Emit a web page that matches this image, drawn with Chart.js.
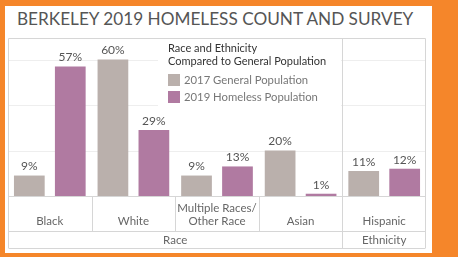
<!DOCTYPE html>
<html>
<head>
<meta charset="utf-8">
<script src="https://cdn.jsdelivr.net/npm/chart.js@4"></script>
<style>
  html, body { margin: 0; padding: 0; }
  body { width: 458px; height: 257px; background: #F5862A; position: relative; overflow: hidden; font-family: Lato, sans-serif; }
  #panel { position: absolute; left: 5px; top: 6px; width: 427px; height: 247px; background: #fff; }
  #title { position: absolute; left: 17px; top: 8px; font-size: 17.2px; color: #555; white-space: nowrap; }
  #chart { position: absolute; left: 0; top: 0; }
</style>
</head>
<body>
<div id="panel"></div>
<div id="title">BERKELEY 2019 HOMELESS COUNT AND SURVEY</div>
<canvas id="chart" width="458" height="257"></canvas>
<script>
// ---------------- DATA ----------------
const categories = ['Black', 'White', ['Multiple Races/', 'Other Race'], 'Asian', 'Hispanic'];
const generalPop2017 = [9, 60, 9, 20, 11];
const homelessPop2019 = [57, 29, 13, 1, 12];
const groupNames = ['Race', 'Ethnicity'];
const groupSizes = [4, 1];
const legendTitle = ['Race and Ethnicity', 'Compared to General Population'];
const gridValues = [20, 40, 60];

const GRAY = '#BAB0AC';
const PURPLE = '#B07AA1';
const LINE = '#d6d6d6';
const FONT = 'Lato, sans-serif';

// ---------------- CUSTOM DRAWING ----------------
const tableauLook = {
  id: 'tableauLook',
  beforeDatasetsDraw(chart) {
    const { ctx, chartArea: a, scales: { y } } = chart;
    ctx.save();
    // faint gridlines
    ctx.strokeStyle = '#eeeeee';
    ctx.lineWidth = 1;
    gridValues.forEach(v => {
      const py = Math.round(y.getPixelForValue(v)) + 0.5;
      ctx.beginPath();
      ctx.moveTo(a.left, py);
      ctx.lineTo(a.right, py);
      ctx.stroke();
    });
    // legend sits on a white box over the grid
    ctx.fillStyle = '#fff';
    ctx.fillRect(158, a.top + 1, 183, 74);
    ctx.restore();
  },
  afterDatasetsDraw(chart) {
    const { ctx, chartArea: a, scales: { x } } = chart;
    const labelBottom = a.bottom + 35;
    const groupBottom = a.bottom + 52;
    const step = x.getPixelForValue(1) - x.getPixelForValue(0);
    const edge = i => x.getPixelForValue(i) - step / 2;
    ctx.save();

    // value labels
    ctx.fillStyle = '#555';
    ctx.font = '12px ' + FONT;
    ctx.textAlign = 'center';
    ctx.textBaseline = 'bottom';
    chart.data.datasets.forEach((ds, di) => {
      chart.getDatasetMeta(di).data.forEach((bar, i) => {
        ctx.fillText(ds.data[i] + '%', bar.x, bar.y - 3);
      });
    });

    // frame lines
    ctx.strokeStyle = LINE;
    ctx.lineWidth = 1;
    const line = (x1, y1, x2, y2) => {
      ctx.beginPath();
      ctx.moveTo(x1, y1);
      ctx.lineTo(x2, y2);
      ctx.stroke();
    };
    const L = Math.round(a.left) + 0.5, R = Math.round(a.right) - 0.5;
    const T = Math.round(a.top) + 0.5, B = Math.round(a.bottom) + 0.5;
    line(L, T, R, T);
    line(L, T, L, groupBottom);
    line(R, T, R, groupBottom);
    line(L, B, R, B);
    line(L, labelBottom + 0.5, R, labelBottom + 0.5);
    line(L, groupBottom + 0.5, R, groupBottom + 0.5);
    for (let i = 1; i < categories.length; i++) {
      line(Math.round(edge(i)) + 0.5, B, Math.round(edge(i)) + 0.5, labelBottom);
    }

    // group separators + group labels
    let start = 0;
    ctx.fillStyle = '#666';
    ctx.font = '11.5px ' + FONT;
    ctx.textBaseline = 'middle';
    groupNames.forEach((g, gi) => {
      const end = start + groupSizes[gi];
      const x0 = edge(start), x1 = edge(end);
      if (end < categories.length) {
        const px = Math.round(x1) + 0.5;
        line(px, T, px, groupBottom);
      }
      ctx.fillText(g, (x0 + x1) / 2, (labelBottom + groupBottom) / 2 + 1);
      start = end;
    });

    // category labels (bottom aligned)
    ctx.textBaseline = 'alphabetic';
    categories.forEach((c, i) => {
      const lines = Array.isArray(c) ? c : [c];
      lines.forEach((t, li) => {
        ctx.fillText(t, x.getPixelForValue(i), labelBottom - 6 - (lines.length - 1 - li) * 13.5);
      });
    });

    // legend
    ctx.textAlign = 'left';
    ctx.fillStyle = '#333';
    ctx.font = '11px ' + FONT;
    legendTitle.forEach((t, i) => ctx.fillText(t, 168, 52 + i * 12.5));
    ctx.textBaseline = 'middle';
    ctx.font = '11.3px ' + FONT;
    chart.data.datasets.forEach((ds, di) => {
      const top = 74 + di * 17;
      ctx.fillStyle = ds.backgroundColor;
      ctx.fillRect(168, top, 12, 12);
      ctx.fillStyle = '#777';
      ctx.fillText(ds.label, 184, top + 6.5);
    });

    ctx.restore();
  }
};

// ---------------- CHART ----------------
new Chart(document.getElementById('chart'), {
  type: 'bar',
  data: {
    labels: categories,
    datasets: [
      { label: '2017 General Population', data: generalPop2017, backgroundColor: GRAY },
      { label: '2019 Homeless Population', data: homelessPop2019, backgroundColor: PURPLE }
    ]
  },
  options: {
    responsive: false,
    animation: false,
    layout: { padding: { left: 8, right: 32, top: 38, bottom: 61 } },
    datasets: { bar: { categoryPercentage: 0.98, barPercentage: 0.75 } },
    scales: {
      x: { display: false, offset: true },
      y: { display: false, min: 0, max: 69.5 }
    },
    plugins: { legend: { display: false }, tooltip: { enabled: false } }
  },
  plugins: [tableauLook]
});
</script>
</body>
</html>
